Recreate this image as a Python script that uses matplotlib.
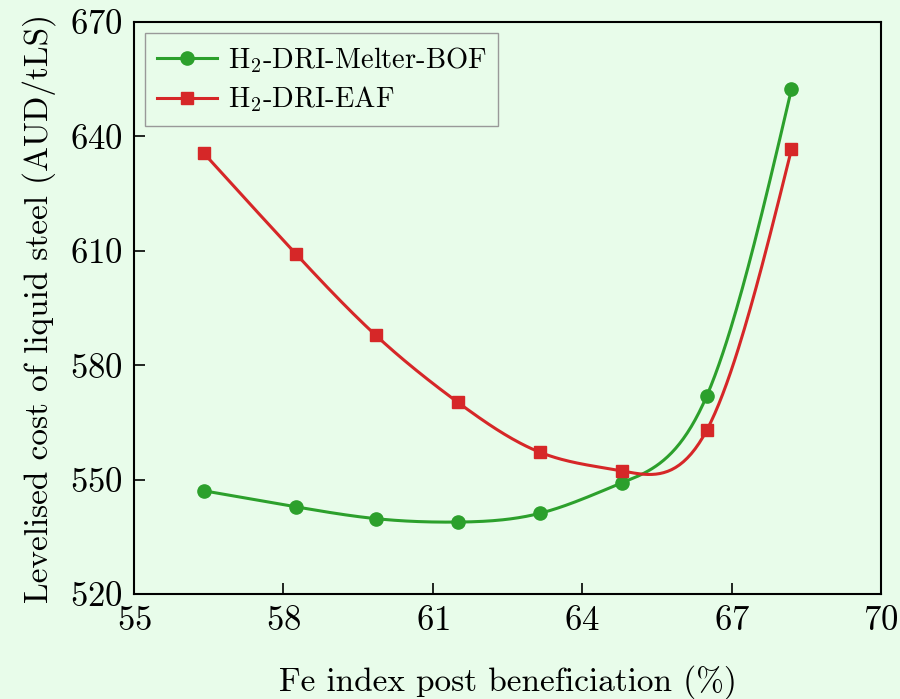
import numpy as np
import matplotlib
matplotlib.use("Agg")
import matplotlib.pyplot as plt

# values
fe_index = [56.4, 58.25, 59.85, 61.5, 63.15, 64.8, 66.5, 68.2]
bof_cost = [547.1, 542.9, 539.8, 538.9, 541.2, 549.2, 572.0, 652.4]
eaf_cost = [635.6, 609.2, 587.9, 570.3, 557.2, 552.3, 563.0, 636.6]

BG = "#e8fcea"
GREEN = "#2ca02c"
RED = "#d62728"


def smooth(x, y, n=300):
    """natural cubic spline through the points, only used to draw the curve"""
    x = np.asarray(x, float)
    y = np.asarray(y, float)
    k = len(x)
    h = np.diff(x)
    A = np.zeros((k, k))
    b = np.zeros(k)
    A[0, 0] = A[-1, -1] = 1.0
    for i in range(1, k - 1):
        A[i, i - 1] = h[i - 1]
        A[i, i] = 2 * (h[i - 1] + h[i])
        A[i, i + 1] = h[i]
        b[i] = 6 * ((y[i + 1] - y[i]) / h[i] - (y[i] - y[i - 1]) / h[i - 1])
    m = np.linalg.solve(A, b)
    xs = np.linspace(x[0], x[-1], n)
    idx = np.clip(np.searchsorted(x, xs) - 1, 0, k - 2)
    x0, x1 = x[idx], x[idx + 1]
    hh = x1 - x0
    t0, t1 = x1 - xs, xs - x0
    ys = (m[idx] * t0**3 + m[idx + 1] * t1**3) / (6 * hh) \
        + (y[idx] / hh - m[idx] * hh / 6) * t0 \
        + (y[idx + 1] / hh - m[idx + 1] * hh / 6) * t1
    return xs, ys


plt.rcParams["font.family"] = "serif"
plt.rcParams["font.serif"] = ["cmr10"]
plt.rcParams["mathtext.fontset"] = "cm"
plt.rcParams["axes.formatter.use_mathtext"] = True

fig = plt.figure(figsize=(9, 6.99), dpi=100, facecolor=BG)
ax = fig.add_axes([0.149, 0.150, 0.830, 0.8185], facecolor=BG)

for y, col, mk, ms, lab in [
    (bof_cost, GREEN, "o", 9.5, r"H$_2$-DRI-Melter-BOF"),
    (eaf_cost, RED, "s", 8.5, r"H$_2$-DRI-EAF"),
]:
    xs, ys = smooth(fe_index, y)
    ax.plot(xs, ys, color=col, lw=2.2)
    ax.plot(fe_index, y, linestyle="none", marker=mk, ms=ms, color=col)
    ax.plot([], [], color=col, lw=2.2, marker=mk, ms=ms, label=lab)

ax.set_xlim(55, 70)
ax.set_ylim(520, 670)
ax.set_xticks([55, 58, 61, 64, 67, 70])
ax.set_yticks([520, 550, 580, 610, 640, 670])
ax.tick_params(direction="in", length=8, width=1.2, labelsize=25, pad=8)
for s in ax.spines.values():
    s.set_linewidth(1.5)

ax.set_xlabel("Fe index post beneficiation (%)", fontsize=24, labelpad=20)
ax.set_ylabel("Levelised cost of liquid steel (AUD/tLS)", fontsize=24, labelpad=10)

leg = ax.legend(loc="upper left", fontsize=20.5, fancybox=False, framealpha=1,
                facecolor=BG, edgecolor="#999999", handlelength=2.1,
                handletextpad=0.4, borderpad=0.4, labelspacing=0.35,
                borderaxespad=0.4)
leg.get_frame().set_linewidth(1.0)

fig.savefig("out.png", dpi=100, facecolor=BG)
